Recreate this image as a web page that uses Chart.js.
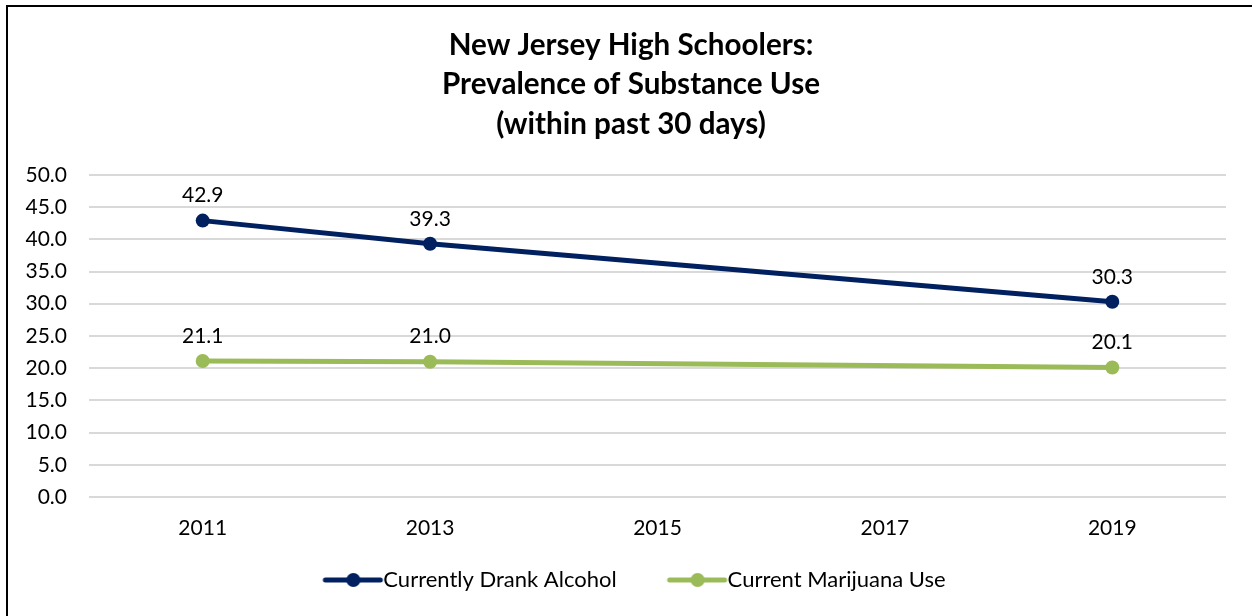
<!DOCTYPE html>
<html>
<head>
<meta charset="utf-8">
<script src="https://cdn.jsdelivr.net/npm/chart.js@4"></script>
<style>
    html, body { margin: 0; padding: 0; background: #fff; }
    #wrap { position: relative; width: 1252px; height: 616px; }
</style>
</head>
<body>
<div id="wrap"><canvas id="substanceChart"></canvas></div>
<script>
// chart data
const years = ['2011', '2013', '2015', '2017', '2019'];
const alcohol = [42.9, 39.3, null, null, 30.3];
const marijuana = [21.1, 21.0, null, null, 20.1];
const titleLines = ['New Jersey High Schoolers:', 'Prevalence of Substance Use', '(within past 30 days)'];

const navy = '#002060';
const green = '#9BBB59';
const fontName = 'Lato, "Liberation Sans", sans-serif';

// line + dot marker for the legend (drawn on the right part of a wide image
// so the text sits right after it and the free room goes before it)
function legendMarker(color) {
    const c = document.createElement('canvas');
    c.width = 120;
    c.height = 16;
    const g = c.getContext('2d');
    g.strokeStyle = color;
    g.lineWidth = 5;
    g.lineCap = 'round';
    g.beginPath();
    g.moveTo(53, 8);
    g.lineTo(108, 8);
    g.stroke();
    g.fillStyle = color;
    g.beginPath();
    g.arc(81, 8, 7, 0, Math.PI * 2);
    g.fill();
    return c;
}

// value labels above each point
const valueLabels = {
    id: 'valueLabels',
    afterDatasetsDraw(chart) {
        const ctx = chart.ctx;
        ctx.save();
        ctx.font = '21px ' + fontName;
        ctx.fillStyle = '#000';
        ctx.textAlign = 'center';
        ctx.textBaseline = 'middle';
        chart.data.datasets.forEach((ds, i) => {
            chart.getDatasetMeta(i).data.forEach((pt, j) => {
                if (ds.data[j] === null) return;
                ctx.fillText(ds.data[j].toFixed(1), pt.x, pt.y - 25);
            });
        });
        ctx.restore();
    }
};

// outer border of the chart box
const frame = {
    id: 'frame',
    beforeDraw(chart) {
        const ctx = chart.ctx;
        ctx.save();
        ctx.strokeStyle = '#000';
        ctx.lineWidth = 2;
        ctx.strokeRect(7, 6, 1300, 700);
        ctx.restore();
    }
};

// the empty lead-in of the legend markers pushes the legend right; pull it back
const legendShift = {
    id: 'legendShift',
    afterLayout(chart) {
        if (chart.legend) {
            chart.legend.left -= 12;
            chart.legend.right -= 12;
        }
    }
};

document.addEventListener('DOMContentLoaded', function() {
    const ctx = document.getElementById('substanceChart').getContext('2d');

    new Chart(ctx, {
        type: 'line',
        data: {
            labels: years,
            datasets: [
                {
                    label: 'Currently Drank Alcohol',
                    data: alcohol,
                    borderColor: navy,
                    backgroundColor: navy,
                    borderWidth: 5,
                    pointRadius: 7,
                    pointHoverRadius: 7,
                    pointBorderWidth: 0,
                    pointStyle: 'circle',
                    spanGaps: true,
                    tension: 0
                },
                {
                    label: 'Current Marijuana Use',
                    data: marijuana,
                    borderColor: green,
                    backgroundColor: green,
                    borderWidth: 5,
                    pointRadius: 7,
                    pointHoverRadius: 7,
                    pointBorderWidth: 0,
                    pointStyle: 'circle',
                    spanGaps: true,
                    tension: 0
                }
            ]
        },
        options: {
            responsive: true,
            maintainAspectRatio: false,
            animation: false,
            layout: {
                padding: { left: 10, right: 0, top: 25, bottom: 15 }
            },
            plugins: {
                title: {
                    display: true,
                    text: titleLines,
                    color: '#000',
                    font: { family: fontName, size: 29.6, weight: 'bold', lineHeight: 1.35 },
                    padding: { top: 0, bottom: 30 }
                },
                legend: {
                    position: 'bottom',
                    labels: {
                        color: '#000',
                        font: { family: fontName, size: 22 },
                        usePointStyle: true,
                        pointStyleWidth: 80,
                        padding: 20,
                        generateLabels: function(chart) {
                            return chart.data.datasets.map((ds, i) => ({
                                text: ds.label,
                                pointStyle: legendMarker(ds.borderColor),
                                fillStyle: ds.borderColor,
                                strokeStyle: ds.borderColor,
                                lineWidth: 0,
                                fontColor: '#000',
                                hidden: false,
                                datasetIndex: i
                            }));
                        }
                    }
                },
                tooltip: { enabled: false }
            },
            scales: {
                x: {
                    offset: true,
                    afterFit: function(scale) { scale.height = 52; },
                    grid: { display: false },
                    border: { display: false },
                    ticks: {
                        color: '#000',
                        font: { family: fontName, size: 21 },
                        padding: 11
                    }
                },
                y: {
                    min: 0,
                    max: 50,
                    afterFit: function(scale) { scale.width = 79; },
                    grid: { color: '#d9d9d9', lineWidth: 2, drawTicks: false },
                    border: { display: false },
                    ticks: {
                        stepSize: 5,
                        color: '#000',
                        font: { family: fontName, size: 21 },
                        padding: 22,
                        callback: function(value) { return value.toFixed(1); }
                    }
                },
                // empty right-hand axis, only keeps room on the right side
                yRight: {
                    position: 'right',
                    min: 0,
                    max: 50,
                    afterFit: function(scale) { scale.width = 26; },
                    grid: { display: false },
                    border: { display: false },
                    ticks: { display: false }
                }
            }
        },
        plugins: [frame, valueLabels, legendShift]
    });
});
</script>
</body>
</html>
